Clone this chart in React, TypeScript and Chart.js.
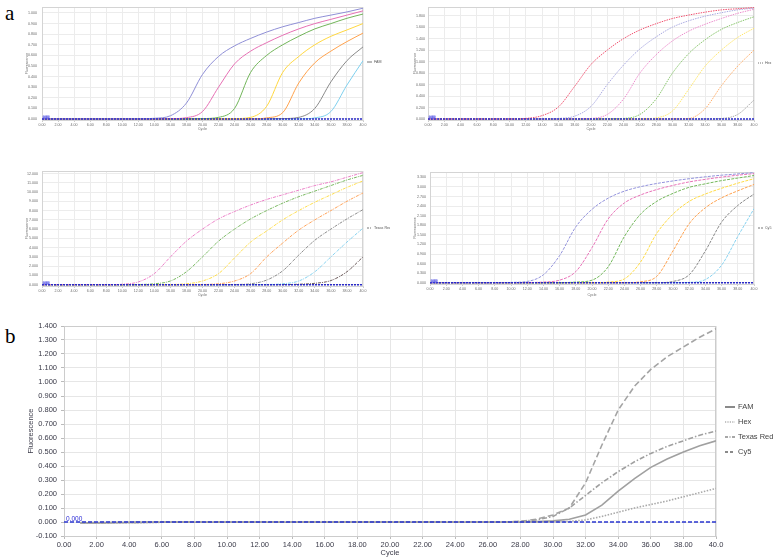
import React, { useEffect, useRef } from "react";
import { Chart, registerables } from "chart.js";

Chart.register(...registerables);

// ---------- shared axis data ----------
const X_TICKS = [0, 2, 4, 6, 8, 10, 12, 14, 16, 18, 20, 22, 24, 26, 28, 30, 32, 34, 36, 38, 40];
const X_TICK_LABELS = ["0.00", "2.00", "4.00", "6.00", "8.00", "10.00", "12.00", "14.00", "16.00", "18.00", "20.00", "22.00", "24.00", "26.00", "28.00", "30.00", "32.00", "34.00", "36.00", "38.00", "40.0"];
const CYCLES_A = [0, 2, 4, 6, 8, 10, 12, 14, 16, 18, 20, 22, 24, 26, 28, 30, 32, 34, 36, 38, 40];
const CYCLES_B = [1, 2, 3, 4, 5, 6, 7, 8, 9, 10, 11, 12, 13, 14, 15, 16, 17, 18, 19, 20, 21, 22, 23, 24, 25, 26, 27, 28, 29, 30, 31, 32, 33, 34, 35, 36, 37, 38, 39, 40];
const THRESHOLD_X = [0, 40];
const THRESHOLD_Y = [0, 0];

// ---------- panel a: FAM ----------
const FAM_Y_TICKS = [0, 0.1, 0.2, 0.3, 0.4, 0.5, 0.6, 0.7, 0.8, 0.9, 1.0];
const FAM_C1 = [0, 0, 0, 0, 0, 0, 0.001, 0.006, 0.03, 0.15, 0.42, 0.59, 0.69, 0.76, 0.82, 0.87, 0.91, 0.95, 0.98, 1.01, 1.045];
const FAM_C2 = [0, 0, 0, 0, 0, 0, 0, 0, 0.002, 0.012, 0.07, 0.30, 0.52, 0.64, 0.72, 0.79, 0.85, 0.90, 0.94, 0.98, 1.02];
const FAM_C3 = [0, 0, 0, 0, 0, 0, 0, 0, 0, 0, 0.003, 0.015, 0.10, 0.44, 0.60, 0.70, 0.78, 0.85, 0.90, 0.95, 0.99];
const FAM_C4 = [0, 0, 0, 0, 0, 0, 0, 0, 0, 0, 0, 0, 0.003, 0.015, 0.12, 0.44, 0.59, 0.70, 0.78, 0.84, 0.90];
const FAM_C5 = [0, 0, 0, 0, 0, 0, 0, 0, 0, 0, 0, 0, 0, 0, 0.01, 0.06, 0.34, 0.53, 0.64, 0.73, 0.81];
const FAM_C6 = [0, 0, 0, 0, 0, 0, 0, 0, 0, 0, 0, 0, 0, 0, 0, 0.003, 0.015, 0.10, 0.35, 0.55, 0.68];
const FAM_C7 = [0, 0, 0, 0, 0, 0, 0, 0, 0, 0, 0, 0, 0, 0, 0, 0, 0, 0.01, 0.07, 0.32, 0.55];

// ---------- panel a: Hex ----------
const HEX_Y_TICKS = [0, 0.2, 0.4, 0.6, 0.8, 1.0, 1.2, 1.4, 1.6, 1.8];
const HEX_C1 = [0, 0, 0, 0, 0, 0, 0.01, 0.06, 0.21, 0.57, 0.95, 1.20, 1.40, 1.55, 1.66, 1.75, 1.81, 1.86, 1.90, 1.92, 1.94];
const HEX_C2 = [0, 0, 0, 0, 0, 0, 0, 0.003, 0.01, 0.05, 0.22, 0.60, 0.94, 1.22, 1.43, 1.60, 1.71, 1.79, 1.85, 1.90, 1.93];
const HEX_C3 = [0, 0, 0, 0, 0, 0, 0, 0, 0, 0.003, 0.01, 0.08, 0.35, 0.80, 1.12, 1.36, 1.53, 1.65, 1.75, 1.84, 1.91];
const HEX_C4 = [0, 0, 0, 0, 0, 0, 0, 0, 0, 0, 0, 0.003, 0.01, 0.08, 0.35, 0.80, 1.14, 1.38, 1.56, 1.68, 1.78];
const HEX_C5 = [0, 0, 0, 0, 0, 0, 0, 0, 0, 0, 0, 0, 0, 0.003, 0.02, 0.14, 0.52, 0.92, 1.20, 1.42, 1.58];
const HEX_C6 = [0, 0, 0, 0, 0, 0, 0, 0, 0, 0, 0, 0, 0, 0, 0, 0.003, 0.01, 0.18, 0.58, 0.92, 1.20];
const HEX_C7 = [0, 0, 0, 0, 0, 0, 0, 0, 0, 0, 0, 0, 0, 0, 0, 0, 0, 0.002, 0.01, 0.08, 0.33];

// ---------- panel a: Texas Red ----------
const TR_Y_TICKS = [0, 1, 2, 3, 4, 5, 6, 7, 8, 9, 10, 11, 12];
const TR_C1 = [0, 0, 0, 0, 0, 0.05, 0.3, 1.2, 3.0, 4.7, 6.0, 7.1, 7.9, 8.6, 9.2, 9.7, 10.2, 10.7, 11.1, 11.6, 12.1];
const TR_C2 = [0, 0, 0, 0, 0, 0, 0.02, 0.1, 0.4, 1.4, 3.0, 4.7, 6.0, 7.1, 8.0, 8.8, 9.5, 10.1, 10.7, 11.3, 11.8];
const TR_C3 = [0, 0, 0, 0, 0, 0, 0, 0, 0.02, 0.1, 0.4, 1.2, 2.9, 4.6, 5.8, 7.0, 8.0, 8.9, 9.7, 10.5, 11.2];
const TR_C4 = [0, 0, 0, 0, 0, 0, 0, 0, 0, 0, 0.02, 0.1, 0.4, 1.2, 3.0, 4.5, 5.9, 7.0, 8.0, 9.0, 9.9];
const TR_C5 = [0, 0, 0, 0, 0, 0, 0, 0, 0, 0, 0, 0, 0.02, 0.1, 0.5, 1.5, 3.2, 4.8, 6.0, 7.1, 8.1];
const TR_C6 = [0, 0, 0, 0, 0, 0, 0, 0, 0, 0, 0, 0, 0, 0, 0.02, 0.1, 0.4, 1.4, 3.0, 4.6, 6.1];
const TR_C7 = [0, 0, 0, 0, 0, 0, 0, 0, 0, 0, 0, 0, 0, 0, 0, 0.01, 0.05, 0.15, 0.45, 1.4, 3.0];

// ---------- panel a: Cy5 ----------
const CY_Y_TICKS = [0, 0.3, 0.6, 0.9, 1.2, 1.5, 1.8, 2.1, 2.4, 2.7, 3.0, 3.3];
const CY_C1 = [0, 0, 0, 0, 0, 0.01, 0.04, 0.25, 0.85, 1.75, 2.30, 2.65, 2.87, 3.01, 3.11, 3.19, 3.26, 3.32, 3.37, 3.41, 3.45];
const CY_C2 = [0, 0, 0, 0, 0, 0, 0.005, 0.02, 0.08, 0.35, 1.1, 2.0, 2.5, 2.75, 2.92, 3.05, 3.16, 3.24, 3.31, 3.37, 3.42];
const CY_C3 = [0, 0, 0, 0, 0, 0, 0, 0, 0, 0.02, 0.08, 0.5, 1.45, 2.15, 2.55, 2.80, 2.99, 3.10, 3.20, 3.28, 3.36];
const CY_C4 = [0, 0, 0, 0, 0, 0, 0, 0, 0, 0, 0, 0.02, 0.12, 0.65, 1.55, 2.15, 2.55, 2.78, 2.96, 3.12, 3.26];
const CY_C5 = [0, 0, 0, 0, 0, 0, 0, 0, 0, 0, 0, 0, 0, 0.03, 0.2, 1.0, 1.85, 2.35, 2.66, 2.88, 3.08];
const CY_C6 = [0, 0, 0, 0, 0, 0, 0, 0, 0, 0, 0, 0, 0, 0, 0, 0.04, 0.25, 1.0, 1.9, 2.42, 2.78];
const CY_C7 = [0, 0, 0, 0, 0, 0, 0, 0, 0, 0, 0, 0, 0, 0, 0, 0, 0.01, 0.1, 0.55, 1.45, 2.32];

// ---------- panel b ----------
const B_Y_TICKS = [-0.1, 0, 0.1, 0.2, 0.3, 0.4, 0.5, 0.6, 0.7, 0.8, 0.9, 1.0, 1.1, 1.2, 1.3, 1.4];
const FAM_B = [-0.006, -0.006, -0.005, -0.004, -0.003, -0.002, -0.002, -0.002, -0.002, -0.002, -0.002, -0.002, -0.002, -0.002, -0.002, -0.002, -0.002, -0.002, -0.002, -0.002, -0.002, -0.002, -0.002, -0.002, -0.002, -0.002, -0.002, -0.001, 0.003, 0.008, 0.02, 0.05, 0.12, 0.22, 0.31, 0.39, 0.45, 0.50, 0.545, 0.58];
const HEX_B = [-0.007, -0.007, -0.006, -0.005, -0.004, -0.002, -0.002, -0.002, -0.002, -0.002, -0.002, -0.002, -0.002, -0.002, -0.002, -0.002, -0.002, -0.002, -0.002, -0.002, -0.002, -0.002, -0.002, -0.002, -0.002, -0.002, -0.002, -0.002, -0.002, 0.0, 0.004, 0.015, 0.04, 0.07, 0.10, 0.125, 0.15, 0.18, 0.21, 0.24];
const TR_B = [-0.005, -0.005, -0.004, -0.003, -0.002, -0.001, -0.001, -0.001, -0.001, -0.001, -0.001, -0.001, -0.001, -0.001, -0.001, -0.001, -0.001, -0.001, -0.001, -0.001, -0.001, -0.001, -0.001, -0.001, -0.001, -0.001, -0.001, 0.005, 0.015, 0.04, 0.10, 0.19, 0.28, 0.36, 0.43, 0.49, 0.54, 0.58, 0.62, 0.65];
const CY5_B = [-0.004, -0.004, -0.003, -0.002, -0.002, -0.001, -0.001, -0.001, -0.001, -0.001, -0.001, -0.001, -0.001, -0.001, -0.001, -0.001, -0.001, -0.001, -0.001, -0.001, -0.001, -0.001, -0.001, -0.001, -0.001, -0.001, -0.001, 0.005, 0.02, 0.05, 0.10, 0.28, 0.55, 0.80, 0.97, 1.09, 1.18, 1.25, 1.32, 1.38];

const SANS = "'Liberation Sans', Arial, sans-serif";

const decorPlugin = {
  id: "decor",
  beforeDatasetsDraw(chart: any, _a: any, o: any) {
    const { ctx, chartArea: a } = chart;
    ctx.save();
    ctx.strokeStyle = o.frame;
    ctx.lineWidth = 1;
    ctx.strokeRect(Math.round(a.left) + 0.5, Math.round(a.top) + 0.5, Math.round(a.right - a.left) - 1, Math.round(a.bottom - a.top));
    ctx.restore();
  },
  afterDatasetsDraw(chart: any, _a: any, o: any) {
    const { ctx, chartArea: a, scales } = chart;
    const x0 = scales.x.getPixelForValue(0);
    const y0 = scales.y.getPixelForValue(0);
    ctx.save();
    if (o.thrBox) {
      ctx.fillStyle = "rgba(80,80,235,0.45)";
      ctx.fillRect(x0 + 0.5, y0 - o.thrBox[1], o.thrBox[0], o.thrBox[1]);
    }
    ctx.font = `${o.thrFont}px ${SANS}`;
    ctx.fillStyle = "#2b2bd6";
    ctx.textAlign = "left";
    ctx.textBaseline = "alphabetic";
    ctx.fillText("0.000", x0 + o.thrDx, y0 - o.thrDy);
    ctx.font = `${o.legFont}px ${SANS}`;
    ctx.textBaseline = "middle";
    o.legend.forEach((it: any, i: number) => {
      const y = o.legY[i];
      const lx = a.right + o.legDx;
      ctx.strokeStyle = o.legColor;
      ctx.lineWidth = it.w;
      ctx.setLineDash(it.dash);
      ctx.beginPath();
      ctx.moveTo(lx, y);
      ctx.lineTo(lx + o.legLen, y);
      ctx.stroke();
      ctx.setLineDash([]);
      ctx.fillStyle = o.legText;
      ctx.fillText(it.label, lx + o.legLen + o.legGap, y);
    });
    ctx.restore();
  },
};

function buildConfig(s: any) {
  const datasets: any[] = [
    {
      data: THRESHOLD_X.map((x, i) => ({ x, y: THRESHOLD_Y[i] })),
      borderColor: s.thrColor,
      borderWidth: s.thrWidth,
      borderDash: s.thrDash,
      pointRadius: 0,
      tension: 0,
    },
  ];
  s.series.forEach((ser: any) => {
    datasets.push({
      data: s.xs.map((x: number, i: number) => ({ x, y: ser.values[i] })),
      borderColor: ser.color,
      borderWidth: s.lineW,
      borderDash: ser.dash || s.dash,
      pointRadius: 0,
      cubicInterpolationMode: s.smooth ? "monotone" : "default",
      tension: s.smooth ? 0.4 : 0,
    });
  });
  const tickFont = { family: SANS, size: s.tickFont };
  const titleFont = { family: SANS, size: s.titleFont };
  return {
    type: "line",
    data: { datasets },
    options: {
      animation: false,
      responsive: false,
      maintainAspectRatio: false,
      devicePixelRatio: 1,
      events: [],
      layout: { padding: s.pad },
      plugins: {
        legend: { display: false },
        tooltip: { enabled: false },
        decor: s.decor,
      },
      scales: {
        x: {
          type: "linear",
          min: 0,
          max: 40,
          afterBuildTicks: (sc: any) => {
            sc.ticks = X_TICKS.map((v) => ({ value: v }));
          },
          afterFit: (sc: any) => {
            sc.height = s.xAxisH;
          },
          ticks: {
            autoSkip: false,
            maxRotation: 0,
            padding: s.xTickPad,
            color: s.tickColor,
            font: tickFont,
            callback: (v: any) => {
              const i = X_TICKS.indexOf(Number(v));
              return i >= 0 ? X_TICK_LABELS[i] : "";
            },
          },
          grid: { color: s.gridColor, lineWidth: 1, drawTicks: true, tickLength: s.xTickLen, tickColor: s.tickMarkColor },
          border: { display: true, color: s.frame },
          title: { display: true, text: "Cycle", color: s.tickColor, font: titleFont, padding: 0 },
        },
        y: {
          type: "linear",
          min: s.yMin,
          max: s.yMax,
          afterBuildTicks: (sc: any) => {
            sc.ticks = s.yTicks.map((v: number) => ({ value: v }));
          },
          afterFit: (sc: any) => {
            sc.width = s.yAxisW;
          },
          ticks: {
            autoSkip: false,
            padding: s.yTickPad,
            color: s.tickColor,
            font: tickFont,
            callback: (v: any) => Number(v).toFixed(3),
          },
          grid: { color: s.gridColor, lineWidth: 1, drawTicks: s.yTickLen > 0, tickLength: s.yTickLen, tickColor: s.tickMarkColor },
          border: { display: true, color: s.frame },
          title: { display: true, text: "Fluorescence", color: s.tickColor, font: titleFont, padding: 0 },
        },
      },
    },
    plugins: [decorPlugin],
  };
}

function Panel({ spec }: { spec: any }) {
  const ref = useRef<HTMLCanvasElement | null>(null);
  useEffect(() => {
    const chart = new Chart(ref.current as HTMLCanvasElement, buildConfig(spec) as any);
    return () => chart.destroy();
  }, [spec]);
  return (
    <canvas
      ref={ref}
      width={spec.w}
      height={spec.h}
      style={{ position: "absolute", left: spec.left, top: spec.top, width: spec.w, height: spec.h }}
    />
  );
}

const SMALL_BASE = {
  smooth: true,
  lineW: 1,
  tickFont: 3.6,
  titleFont: 3.6,
  tickColor: "#6a6a6a",
  gridColor: "#ececec",
  tickMarkColor: "#cccccc",
  frame: "#d4d4d4",
  xTickPad: 1,
  xTickLen: 2,
  yTickLen: 0,
  thrColor: "#2a2ac8",
  thrWidth: 1.6,
  thrDash: [2, 1],
  xs: CYCLES_A,
};

function smallDecor(label: string, dash: number[], legY: number) {
  return {
    frame: "#d4d4d4",
    thrBox: [7, 3.2],
    thrFont: 2.6,
    thrDx: 1,
    thrDy: 0.6,
    legFont: 3.6,
    legColor: "#777777",
    legText: "#555555",
    legDx: 4,
    legLen: 5,
    legGap: 2,
    legY: [legY],
    legend: [{ label, dash, w: 1 }],
  };
}

const SPEC_FAM = {
  ...SMALL_BASE,
  left: 25, top: 0, w: 365, h: 131,
  pad: { left: 0, top: 7, right: 27, bottom: 0 },
  yAxisW: 17, xAxisH: 11, yTickPad: 5,
  yMin: -0.01, yMax: 1.055, yTicks: FAM_Y_TICKS,
  dash: [],
  series: [
    { values: FAM_C1, color: "#8f8fd6" },
    { values: FAM_C2, color: "#e670b4" },
    { values: FAM_C3, color: "#72b55a" },
    { values: FAM_C4, color: "#ffd740" },
    { values: FAM_C5, color: "#ffa24d" },
    { values: FAM_C6, color: "#8a8a8a" },
    { values: FAM_C7, color: "#7fd0ee" },
  ],
  decor: smallDecor("FAM", [], 62),
};

const SPEC_HEX = {
  ...SMALL_BASE,
  left: 413, top: 0, w: 364, h: 131,
  pad: { left: 0, top: 7, right: 23, bottom: 0 },
  yAxisW: 15, xAxisH: 11, yTickPad: 3,
  yMin: -0.017, yMax: 1.95, yTicks: HEX_Y_TICKS,
  dash: [1.5, 1],
  series: [
    { values: HEX_C1, color: "#f0506e" },
    { values: HEX_C2, color: "#a9a9e0" },
    { values: HEX_C3, color: "#ec8ccc" },
    { values: HEX_C4, color: "#86c46a" },
    { values: HEX_C5, color: "#ffe566" },
    { values: HEX_C6, color: "#ffae6a" },
    { values: HEX_C7, color: "#a8a8a8" },
  ],
  decor: smallDecor("Hex", [1, 1], 63),
};

const SPEC_TR = {
  ...SMALL_BASE,
  left: 25, top: 160, w: 365, h: 137,
  pad: { left: 0, top: 11, right: 27, bottom: 0 },
  yAxisW: 17, xAxisH: 11, yTickPad: 4,
  yMin: -0.14, yMax: 12.27, yTicks: TR_Y_TICKS,
  dash: [3, 1, 1, 1],
  series: [
    { values: TR_C1, color: "#ec80c8" },
    { values: TR_C2, color: "#78b860" },
    { values: TR_C3, color: "#ffde4d" },
    { values: TR_C4, color: "#ffa35a" },
    { values: TR_C5, color: "#8d8d8d" },
    { values: TR_C6, color: "#86d2f0" },
    { values: TR_C7, color: "#6b5a5a" },
  ],
  decor: smallDecor("Texas Red", [2, 1, 1, 1], 68),
};

const SPEC_CY = {
  ...SMALL_BASE,
  left: 413, top: 160, w: 364, h: 137,
  pad: { left: 0, top: 12, right: 23, bottom: 0 },
  yAxisW: 17, xAxisH: 13, yTickPad: 4,
  yMin: -0.04, yMax: 3.47, yTicks: CY_Y_TICKS,
  dash: [3, 1.2],
  series: [
    { values: CY_C1, color: "#9393dc" },
    { values: CY_C2, color: "#e872b8" },
    { values: CY_C3, color: "#74b85c" },
    { values: CY_C4, color: "#ffdb45" },
    { values: CY_C5, color: "#ffa24f" },
    { values: CY_C6, color: "#888888" },
    { values: CY_C7, color: "#86d2f0" },
  ],
  decor: smallDecor("Cy5", [2, 1], 68),
};

const SPEC_B = {
  smooth: false,
  lineW: 1.6,
  tickFont: 7.5,
  titleFont: 7.5,
  tickColor: "#3a3a48",
  gridColor: "#e6e6e6",
  tickMarkColor: "#bbbbbb",
  frame: "#cccccc",
  xTickPad: 1,
  xTickLen: 3,
  yTickLen: 3,
  thrColor: "#2a36d0",
  thrWidth: 1.4,
  thrDash: [4, 2],
  xs: CYCLES_B,
  left: 26, top: 316, w: 751, h: 241,
  pad: { left: 0, top: 10, right: 61, bottom: 0 },
  yAxisW: 38, xAxisH: 21, yTickPad: 4,
  yMin: -0.1, yMax: 1.4, yTicks: B_Y_TICKS,
  dash: [],
  series: [
    { values: FAM_B, color: "#a0a0a0", dash: [] },
    { values: HEX_B, color: "#a8a8a8", dash: [1.5, 1.5] },
    { values: TR_B, color: "#a0a0a0", dash: [5, 2, 1.5, 2] },
    { values: CY5_B, color: "#a4a4a4", dash: [6, 3] },
  ],
  decor: {
    frame: "#cccccc",
    thrBox: null,
    thrFont: 6.5,
    thrDx: 2,
    thrDy: 1.5,
    legFont: 7.5,
    legColor: "#8a8a8a",
    legText: "#444444",
    legDx: 9,
    legLen: 10,
    legGap: 3,
    legY: [91, 106, 121, 136],
    legend: [
      { label: "FAM", dash: [], w: 2 },
      { label: "Hex", dash: [1.2, 1.2], w: 1.2 },
      { label: "Texas Red", dash: [3, 1.5, 1, 1.5], w: 1.5 },
      { label: "Cy5", dash: [3, 2], w: 2 },
    ],
  },
};

const letterStyle: React.CSSProperties = {
  position: "absolute",
  left: 5,
  fontFamily: "'Liberation Serif', 'Times New Roman', serif",
  fontSize: 21,
  lineHeight: "24px",
  color: "#000",
};

export default function App() {
  return (
    <div style={{ position: "absolute", left: 0, top: 0, width: 777, height: 560, background: "#fff", overflow: "hidden" }}>
      <div style={{ ...letterStyle, top: 1 }}>a</div>
      <div style={{ ...letterStyle, top: 324 }}>b</div>
      <Panel spec={SPEC_FAM} />
      <Panel spec={SPEC_HEX} />
      <Panel spec={SPEC_TR} />
      <Panel spec={SPEC_CY} />
      <Panel spec={SPEC_B} />
    </div>
  );
}
